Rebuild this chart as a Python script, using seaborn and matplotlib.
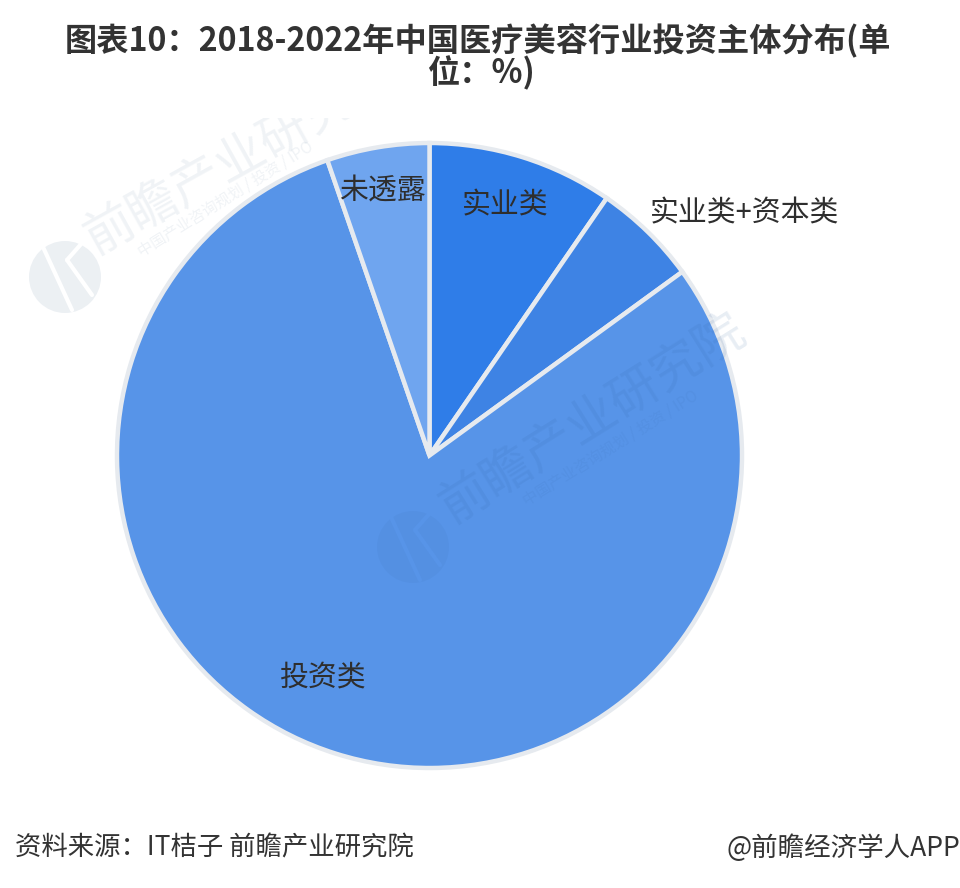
import matplotlib
matplotlib.use("Agg")
import matplotlib.pyplot as plt
from matplotlib.patches import Ellipse
from matplotlib.lines import Line2D
from matplotlib.transforms import Bbox, TransformedBbox
import seaborn as sns

categories = ["实业类", "实业类+资本类", "投资类", "未透露"]
values = [9.6, 5.4, 79.7, 5.3]
colors = ["#2F7DE8", "#3E83E4", "#5794E8", "#6FA5EF"]
title_lines = ["图表10：2018-2022年中国医疗美容行业投资主体分布(单", "位：%)"]
source_text = "资料来源：IT桔子 前瞻产业研究院"
credit_text = "@前瞻经济学人APP"
watermark_text = "前瞻产业研究院"
watermark_sub = "中国产业咨询规划 / 投资 / IPO"

sns.set_theme(style="white")
plt.rcParams['font.family'] = ['Noto Sans CJK SC', 'DejaVu Sans']

fig = plt.figure(figsize=(9.6, 8.88), dpi=100, facecolor="white")
ax = fig.add_axes([117/960, 1-768/888, 625/960, 625/888])
wedges, _ = ax.pie(values, colors=colors, startangle=90, counterclock=False, radius=1.0,
                   wedgeprops=dict(edgecolor="#E6EAEF", linewidth=3.2))
ax.set_xlim(-1, 1); ax.set_ylim(-1, 1)
ax.set_aspect("equal")

def px(x, y, s, **kw):
    return fig.text(x/960, 1-y/888, s, **kw)

def logo(cx, cy, col, alpha, slit, z):
    fig.add_artist(Ellipse((cx/960, 1-cy/888), 72/960, 72/888, transform=fig.transFigure,
                           facecolor=col, edgecolor="none", alpha=alpha, zorder=z))
    for dx0, dy0, dx1, dy1 in [(-22, -30, 7, 33), (17, -34, 2, -17), (2, -17, 27, 18)]:
        fig.add_artist(Line2D([(cx+dx0)/960, (cx+dx1)/960], [1-(cy+dy0)/888, 1-(cy+dy1)/888],
                              transform=fig.transFigure, color=slit, lw=3, zorder=z))

# upper-left watermark sits behind the pie and fades out above it
wm_clip = TransformedBbox(Bbox([[0, 0], [1, 1-118/888]]), fig.transFigure)
wm1 = px(241, 158, watermark_text, ha="center", va="center", rotation=29, fontsize=36,
         color="#8FA6BC", alpha=0.13, zorder=-1)
wm1.set_clip_box(wm_clip); wm1.set_clip_on(True)
px(226, 199, watermark_sub, ha="center", va="center", rotation=32, fontsize=11,
   color="#8FA6BC", alpha=0.13, zorder=-1)
logo(65, 277, "#8FA6BC", 0.17, "white", -1)

# lower-right watermark lies on top of the pie
px(593, 420, watermark_text, ha="center", va="center", rotation=32, fontsize=36,
   color="#2F5F9F", alpha=0.11)
px(611, 448, watermark_sub, ha="center", va="center", rotation=32, fontsize=11,
   color="#2F5F9F", alpha=0.08)
logo(413, 547, "#2F5F9F", 0.07, "#5794E8", 3)

labelpos = [(505, 205), (745, 213), (322, 678), (382, 192)]
for (x, y), c in zip(labelpos, categories):
    px(x, y, c, ha="center", va="center", fontsize=20.8, color="#2E2E2E", zorder=5)

px(478, 41, title_lines[0], ha="center", va="center", fontsize=23.2, fontweight="bold", color="#333333")
px(481, 73, title_lines[1], ha="center", va="center", fontsize=23.2, fontweight="bold", color="#333333")
px(15, 848, source_text, ha="left", va="center", fontsize=19, color="#333333")
px(960, 848, credit_text, ha="right", va="center", fontsize=19.1, color="#333333")

fig.savefig("out.png", dpi=100, facecolor="white")
